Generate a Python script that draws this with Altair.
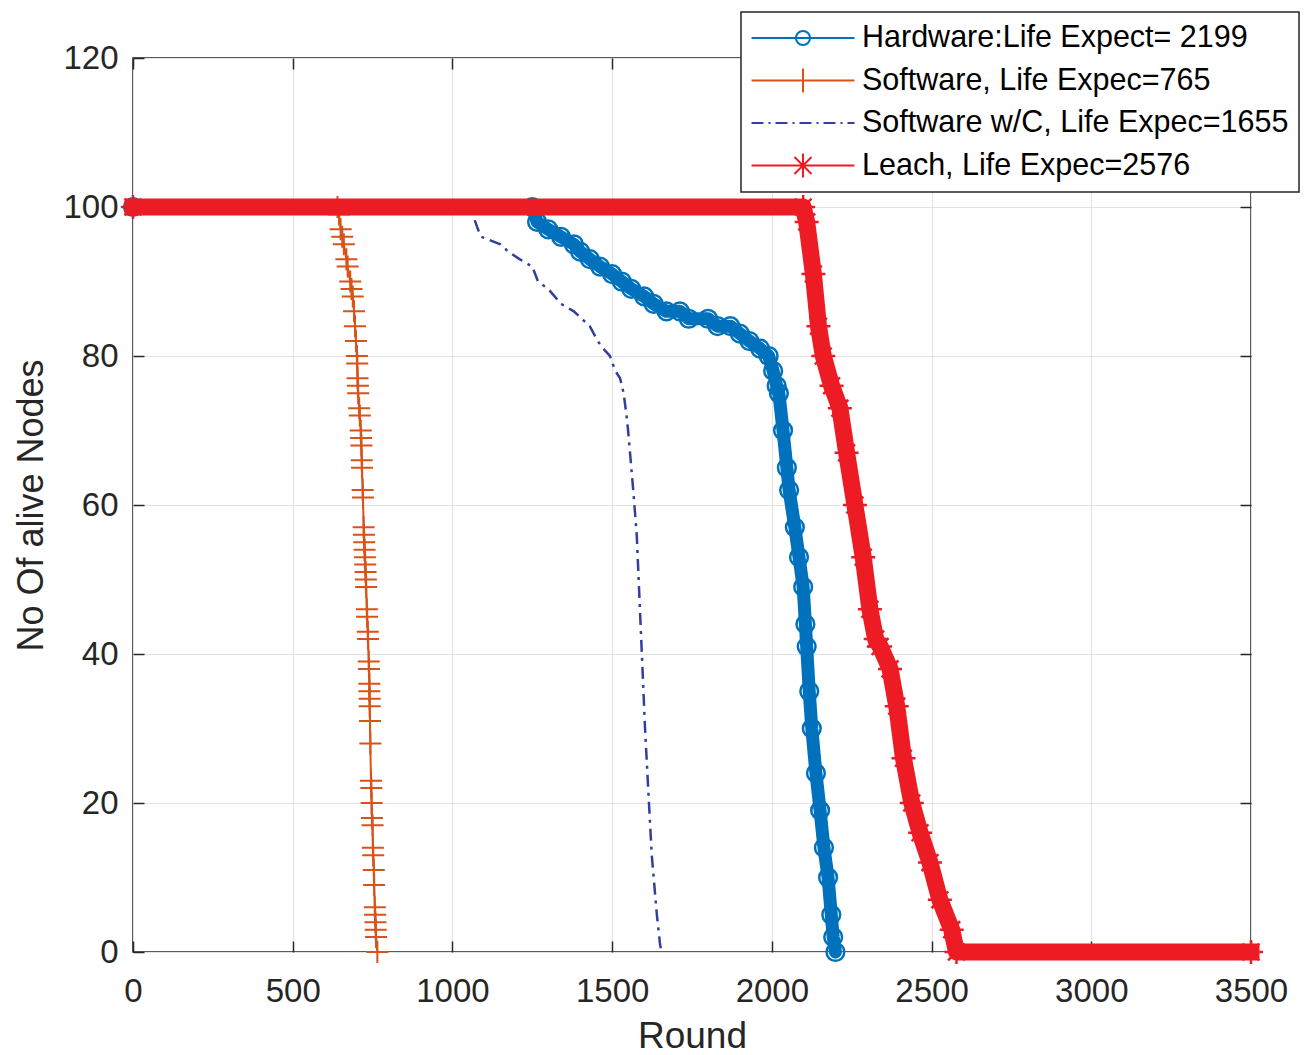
import altair as alt
import pandas as pd

# ---------------- data ----------------
SERIES = [
    "Hardware:Life Expect= 2199",
    "Software, Life Expec=765",
    "Software w/C, Life Expec=1655",
    "Leach, Life Expec=2576",
]
COLORS = ["#0072BD", "#D95319", "#333F9E", "#ED1C24"]

x_ticks = [0, 500, 1000, 1500, 2000, 2500, 3000, 3500]
y_ticks = [0, 20, 40, 60, 80, 100, 120]

hw_round = [0, 1250, 1265, 1300, 1340, 1380, 1400, 1430, 1462, 1500,
            1530, 1560, 1600, 1630, 1670, 1712, 1740, 1800, 1830, 1870,
            1900, 1930, 1963, 1990, 2004, 2015, 2022, 2035, 2047, 2054,
            2072, 2085, 2098, 2105, 2109, 2117, 2125, 2138, 2151, 2163,
            2176, 2186, 2192, 2199]
hw_alive = [100, 100, 98, 97, 96, 95, 94, 93, 92, 91,
            90, 89, 88, 87, 86, 86, 85, 85, 84, 84,
            83, 82, 81, 80, 78, 76, 75, 70, 65, 62,
            57, 53, 49, 44, 41, 35, 30, 24, 19, 14,
            10, 5, 2, 0]

sw_round = [0, 640, 645, 650, 655, 660, 668, 672, 680, 684,
            688, 692, 695, 698, 701, 702, 703, 704, 705, 708,
            710, 713, 714, 715, 716, 717, 719, 720, 722, 723,
            724, 725, 726, 727, 728, 729, 730, 732, 733, 735,
            736, 738, 739, 740, 740, 741, 741, 742, 743, 745,
            746, 747, 748, 750, 751, 752, 754, 755, 757, 758,
            759, 760, 761, 765]
sw_alive = [100, 100, 99, 97, 96, 95, 93, 92, 90, 89,
            88, 86, 84, 82, 80, 79, 77, 76, 75, 73,
            72, 70, 69, 68, 66, 65, 62, 61, 57, 56,
            55, 54, 53, 52, 51, 50, 49, 46, 45, 43,
            42, 39, 38, 36, 35, 34, 33, 31, 28, 23,
            22, 20, 18, 17, 14, 13, 11, 9, 6, 5,
            4, 3, 2, 0]

wc_round = [0, 1055, 1080, 1090, 1150, 1175, 1210, 1250, 1268, 1300,
            1320, 1340, 1380, 1405, 1430, 1455, 1472, 1493, 1510, 1525,
            1536, 1545, 1550, 1556, 1566, 1577, 1585, 1593, 1603, 1614,
            1624, 1632, 1640, 1650, 1655]
wc_alive = [100, 100, 97, 96, 95, 94, 93, 92, 90, 89,
            88, 87, 86, 85, 84, 82, 81, 80, 78, 77,
            75, 72, 70, 67, 62, 56, 48, 40, 30, 21,
            13, 9, 5, 1, 0]

lc_round = [0, 2098, 2109, 2130, 2146, 2161, 2187, 2213, 2234, 2260,
            2286, 2307, 2325, 2339, 2370, 2391, 2412, 2438, 2464, 2495,
            2526, 2563, 2578, 3500]
lc_alive = [100, 100, 98, 91, 84, 80, 76, 73, 67, 60,
            53, 46, 42, 41, 38, 33, 26, 20, 16, 12,
            7, 3, 0, 0]

rows = []
for name, rr, aa in zip(SERIES,
                        [hw_round, sw_round, wc_round, lc_round],
                        [hw_alive, sw_alive, wc_alive, lc_alive]):
    for i, (r, a) in enumerate(zip(rr, aa)):
        rows.append({"series": name, "round": r, "alive": a, "idx": i})
df = pd.DataFrame(rows)

# ---------------- styles ----------------
FONT = "Liberation Sans"
INK = "#262626"
PLUS = "M-1,0L1,0M0,-1L0,1"
STAR = "M-1,0L1,0M0,-1L0,1M-0.7,-0.7L0.7,0.7M-0.7,0.7L0.7,-0.7"

LEG_HW = "M-3.43,0L3.43,0M0.47,0A0.47,0.47 0 1,1 -0.47,0A0.47,0.47 0 1,1 0.47,0"
LEG_SW = "M-3.43,0L3.43,0M0,-0.8L0,0.8"
LEG_WC = ("M-3.433,0L-2.633,0M-2.3,0L-2.167,0M-1.833,0L-1.033,0M-0.7,0L-0.567,0"
          "M-0.233,0L0.567,0M0.9,0L1.033,0M1.367,0L2.167,0M2.5,0L2.633,0M2.967,0L3.433,0")
LEG_LC = ("M-3.43,0L3.43,0M0,-0.8L0,0.8M-0.8,0L0.8,0"
          "M-0.57,-0.57L0.57,0.57M-0.57,0.57L0.57,-0.57")

xscale = alt.Scale(domain=[0, 3500], nice=False, zero=False)
yscale = alt.Scale(domain=[0, 120], nice=False, zero=False)

inward = alt.ExprRef(expr="-11")

x_main = alt.Axis(orient="bottom", values=x_ticks, title="Round", grid=True, format="d",
                  gridColor="#E2E2E2", gridWidth=1, domain=False,
                  ticks=True, tickSize=inward, tickColor=INK, tickWidth=1.5,
                  labelFontSize=33, labelColor=INK, labelFont=FONT,
                  labelPadding=34, labelFlush=False,
                  titleFontSize=37, titleFont=FONT, titleColor=INK,
                  titleFontWeight="normal", titlePadding=10)
y_main = alt.Axis(orient="left", values=y_ticks, title="No Of alive Nodes", grid=True, format="d",
                  gridColor="#E2E2E2", gridWidth=1, domain=False,
                  ticks=True, tickSize=inward, tickColor=INK, tickWidth=1.5,
                  labelFontSize=33, labelColor=INK, labelFont=FONT,
                  labelPadding=26, labelFlush=False,
                  titleFontSize=36, titleFont=FONT, titleColor=INK,
                  titleFontWeight="normal", titlePadding=12)
x_top = alt.Axis(orient="top", values=x_ticks, title=None, grid=False, domain=False,
                 labels=False, ticks=True, tickSize=inward, tickColor=INK, tickWidth=1.5)
y_right = alt.Axis(orient="right", values=y_ticks, title=None, grid=False, domain=False,
                   labels=False, ticks=True, tickSize=inward, tickColor=INK, tickWidth=1.5)

base = alt.Chart(df)


def xy(xa=None, ya=None):
    return dict(
        x=alt.X("round:Q", scale=xscale, axis=xa),
        y=alt.Y("alive:Q", scale=yscale, axis=ya),
        order=alt.Order("idx:Q"),
    )


def sel(series):
    return base.transform_filter(alt.datum.series == series)


# Hardware: dense circle band
hw_band = sel(SERIES[0]).mark_line(color=COLORS[0], strokeWidth=13, strokeJoin="round",
                                   strokeCap="round").encode(**xy(x_main, y_main))
hw_pts = sel(SERIES[0]).mark_point(shape="circle", size=314, filled=False, strokeWidth=2.5,
                                   color=COLORS[0], opacity=1).encode(**xy())

# Software: thin line with plus markers
sw_line = sel(SERIES[1]).mark_line(color=COLORS[1], strokeWidth=2).encode(**xy())
sw_pts = sel(SERIES[1]).mark_point(shape=PLUS, size=484, filled=False, strokeWidth=2,
                                   color=COLORS[1], opacity=1).encode(**xy())

# Software w/C: dash-dot line
wc_line = sel(SERIES[2]).mark_line(color=COLORS[2], strokeWidth=2.5,
                                   strokeDash=[12, 6, 3, 6]).encode(**xy(x_top, y_right))

# Leach: dense asterisk band
lc_band = sel(SERIES[3]).mark_line(color=COLORS[3], strokeWidth=17, strokeJoin="round",
                                   strokeCap="square").encode(**xy())
lc_pts = sel(SERIES[3]).mark_point(shape=STAR, size=576, filled=False, strokeWidth=2.5,
                                   color=COLORS[3], opacity=1).encode(**xy())

legend = alt.Legend(title=None, orient="none", legendX=608, legendY=-46,
                    fillColor="white", strokeColor=INK, padding=10,
                    labelFont=FONT, labelFontSize=30.5, labelColor="black",
                    labelLimit=800, symbolSize=900, symbolStrokeWidth=2,
                    symbolOffset=36, labelOffset=43, rowPadding=10.5)

leg_df = pd.DataFrame({"series": SERIES})
leg_layer = alt.Chart(leg_df).mark_point(filled=False, size=900, strokeWidth=2, opacity=1).encode(
    x=alt.value(-3000), y=alt.value(-3000),
    color=alt.Color("series:N", scale=alt.Scale(domain=SERIES, range=COLORS), legend=legend, sort=SERIES),
    shape=alt.Shape("series:N", scale=alt.Scale(domain=SERIES, range=[LEG_HW, LEG_SW, LEG_WC, LEG_LC]),
                    legend=legend, sort=SERIES),
)

chart = alt.layer(
    hw_band, hw_pts, sw_line, sw_pts, wc_line, lc_band, lc_pts, leg_layer
).resolve_axis(x="independent", y="independent").properties(
    width=1118, height=894,
    padding={"left": 133, "top": 58, "right": 61, "bottom": 103},
    autosize=alt.AutoSizeParams(type="none"),
    background="white",
).configure_view(stroke=INK, strokeWidth=1.5).configure_legend(
    cornerRadius=0, strokeWidth=1.5
)

chart.save("out.html", embed_options={"renderer": "svg", "actions": False})
